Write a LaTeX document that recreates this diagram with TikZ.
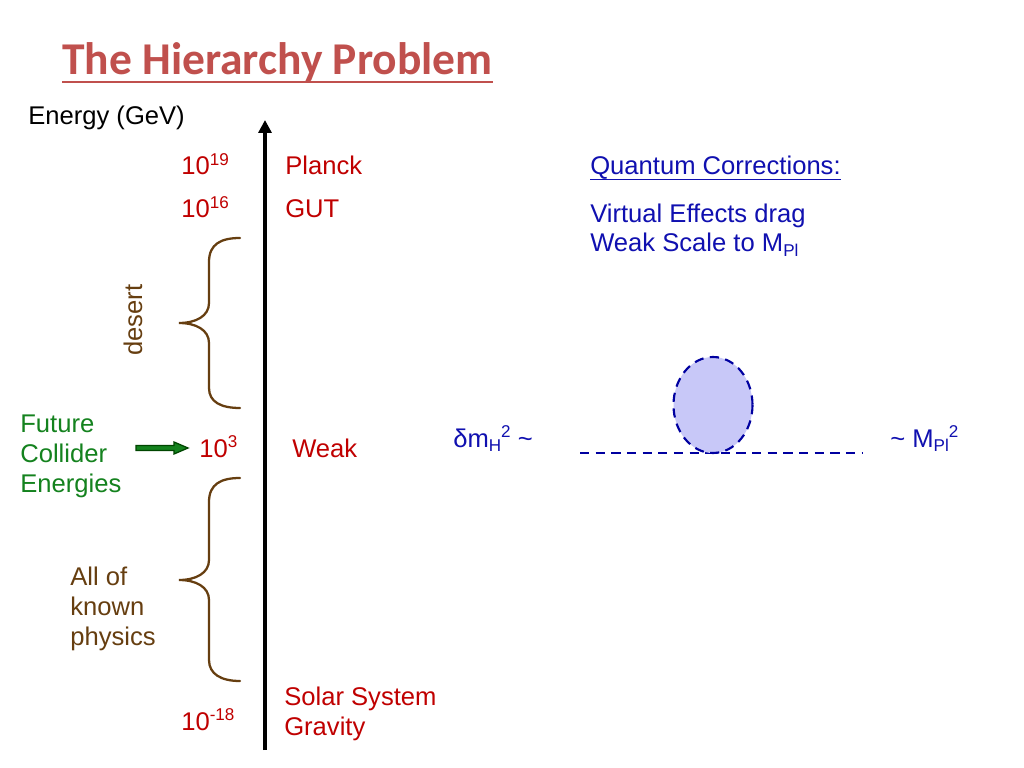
\documentclass[tikz,border=0pt]{standalone}
\usepackage{fontspec}
\setmainfont{Liberation Sans}
\newfontfamily\titlefont{Carlito}
\usetikzlibrary{arrows.meta,calc}
\definecolor{tred}{HTML}{C0504D}
\definecolor{dred}{HTML}{C00000}
\definecolor{brn}{RGB}{102,62,16}
\definecolor{grn}{RGB}{20,130,30}
\definecolor{dgrn}{RGB}{0,70,0}
\definecolor{blu}{RGB}{16,16,176}
\definecolor{dblu}{RGB}{0,0,160}
\definecolor{lav}{RGB}{200,200,248}
\newcommand\supx[1]{\raisebox{0.36em}{\fontsize{12}{12}\selectfont #1}}
\newcommand\subx[1]{\raisebox{-0.18em}{\fontsize{12}{12}\selectfont #1}}
\begin{document}
\begin{tikzpicture}[x=0.703125pt,y=-0.703125pt,
  txt/.style={anchor=base west,inner sep=0pt,font=\fontsize{18}{21.6}\selectfont},
  redt/.style={txt,text=dred},
  brace/.style={draw=brn,line width=1.6pt,line cap=round},
  dsh/.style={draw=dblu,line width=1.5pt,dash pattern=on 6.5pt off 4.5pt}]
\useasboundingbox (0,0) rectangle (1024,768);
\fill[white] (0,0) rectangle (1024,768);
% title
\node[anchor=base west,inner sep=0pt,text=tred,font=\titlefont\bfseries\fontsize{32}{38}\selectfont] (title) at (62,75) {The Hierarchy Problem};
\draw[tred,line width=1.7pt] ($(title.base west)+(0,7)$) -- ($(title.base east)+(0,7)$);
% axis
\node[txt] (energy) at (28,125) {Energy (GeV)};
\coordinate (axbot) at (265,750);
\coordinate (axtop) at (265,120);
\draw[line width=2.9pt,-{Triangle[width=9pt,length=9pt]}] (axbot) -- (axtop);
% scale labels
\node[redt] (e19) at (181,175) {10\supx{19}};
\node[redt] (planck) at (285,175) {Planck};
\node[redt] (e16) at (181,218) {10\supx{16}};
\node[redt] (gut) at (285,218) {GUT};
\node[redt] (e3) at (199,457) {10\supx{3}};
\node[redt] (weak) at (292,457) {Weak};
\node[redt] (em18) at (181,730) {10\supx{-18}};
\node[redt] (solar) at (284,705) {Solar System};
\node[redt] (grav) at (284,735) {Gravity};
% desert brace
\draw[brace] (240,238) .. controls (221,238) and (209,244) .. (209,262) -- (209,303)
  .. controls (209,316) and (196,323) .. (179,323)
  .. controls (196,323) and (209,330) .. (209,343) -- (209,388)
  .. controls (209,402) and (221,408) .. (240,408);
\node[anchor=base,inner sep=0pt,rotate=90,text=brn,font=\fontsize{18}{21.6}\selectfont] (desert) at (142,320) {desert};
% known physics brace
\draw[brace] (240,478) .. controls (221,478) and (209,484) .. (209,502) -- (209,560)
  .. controls (209,573) and (196,580) .. (179,580)
  .. controls (196,580) and (209,587) .. (209,600) -- (209,660)
  .. controls (209,674) and (221,681) .. (240,681);
\node[txt,text=brn] (all) at (70,585) {All of};
\node[txt,text=brn] (known) at (70,615) {known};
\node[txt,text=brn] (phys) at (70,645) {physics};
% future collider
\node[txt,text=grn] (fut) at (20,432) {Future};
\node[txt,text=grn] (coll) at (20,462) {Collider};
\node[txt,text=grn] (ener) at (20,492) {Energies};
\coordinate (fa) at (136,448);
\coordinate (fb) at (188,448);
\filldraw[fill=grn,draw=dgrn,line width=0.9pt,line join=miter]
  ($(fa)+(0,-2.6)$) -- ($(fb)+(-14,-2.6)$) -- ($(fb)+(-14,-6)$) -- (fb)
  -- ($(fb)+(-14,6)$) -- ($(fb)+(-14,2.6)$) -- ($(fa)+(0,2.6)$) -- cycle;
% quantum corrections
\node[txt,text=blu] (qc) at (590,175) {Quantum Corrections:};
\draw[blu,line width=1pt] ($(qc.base west)+(0,4.5)$) -- ($(qc.base east)+(0,4.5)$);
\node[txt,text=blu] (ve) at (590,223) {Virtual Effects drag};
\node[txt,text=blu] (ws) at (590,252) {Weak Scale to M\subx{Pl}};
% loop diagram
\node[txt,text=blu] (dm) at (453,447) {\char"03B4m\subx{H}\supx{2} \char"007E};
\node[txt,text=blu] (mpl) at (890,447) {\char"007E\ M\subx{Pl}\supx{2}};
\coordinate (la) at (580,453);
\coordinate (lb) at (862,453);
\draw[dsh] (la) -- (lb);
\coordinate (loopc) at (713,405);
\draw[dsh,fill=lav] (loopc) ellipse [x radius=39.5, y radius=48];
\end{tikzpicture}
\end{document}
